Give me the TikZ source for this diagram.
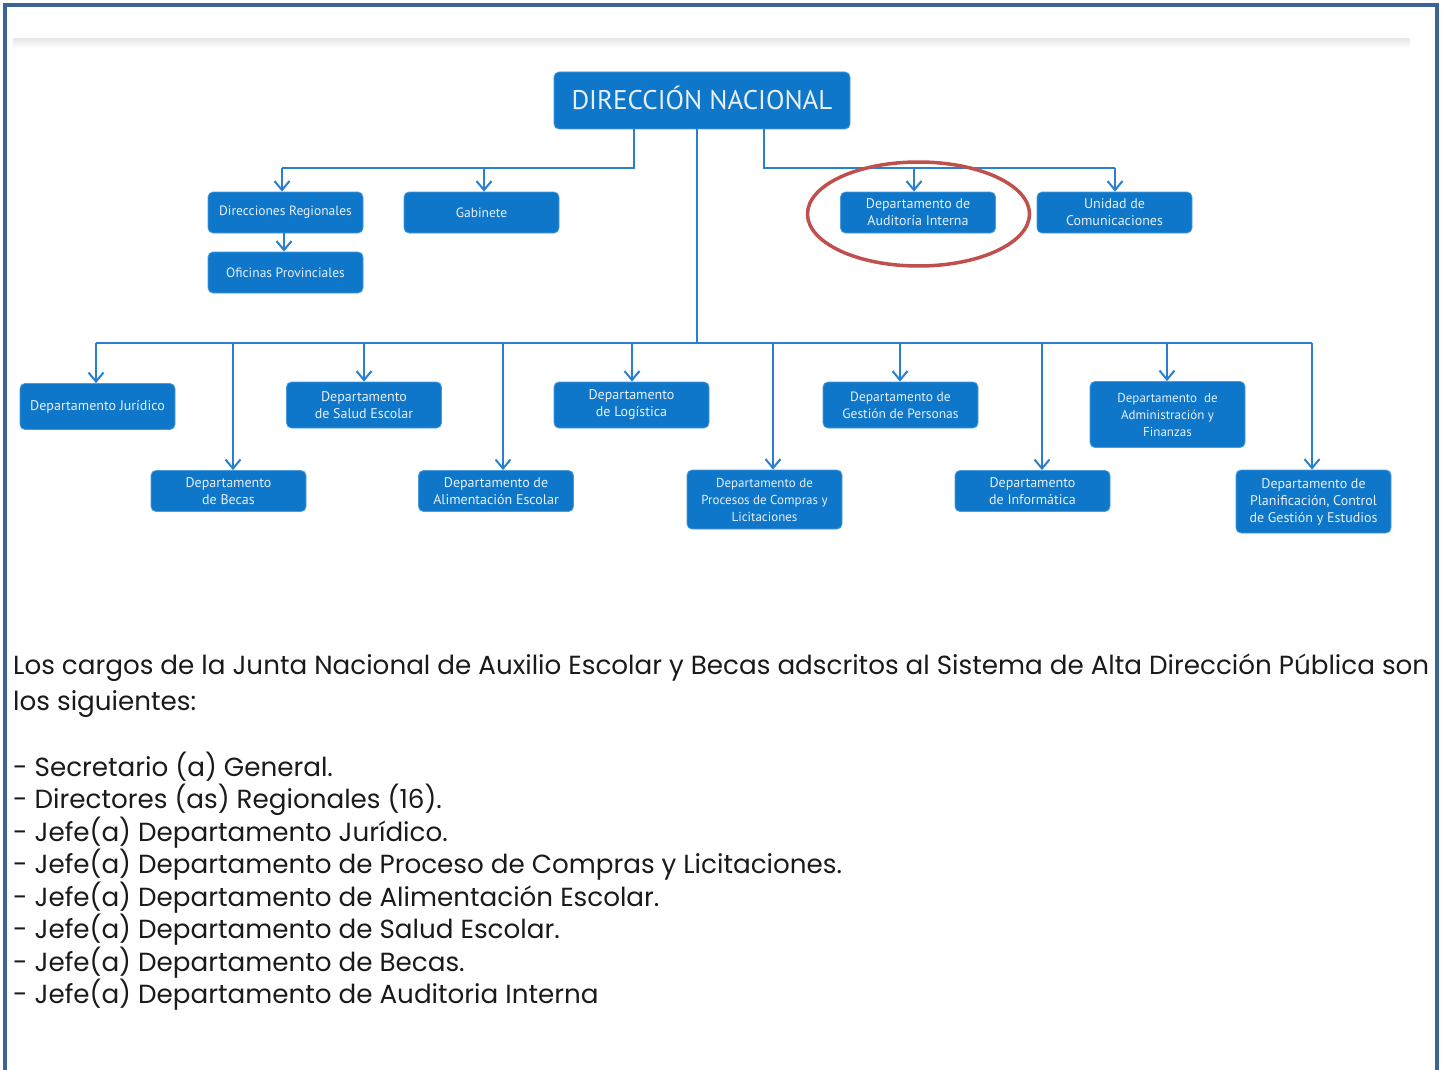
\documentclass[tikz,border=0pt]{standalone}
\usepackage{fontspec}
\setmainfont{Poppins}
\newfontfamily\boxfont{PT Sans}
\usetikzlibrary{arrows.meta,shapes.geometric}
\definecolor{boxblue}{HTML}{0E77C9}
\definecolor{boxedge}{HTML}{4C9BDB}
\definecolor{lineblue}{HTML}{2A80D0}
\definecolor{frameblue}{HTML}{3A6494}
\definecolor{boxtext}{HTML}{E8EFF7}
\definecolor{circred}{HTML}{C0504D}
\definecolor{bodytext}{HTML}{1A1A1A}
\begin{document}
\begin{tikzpicture}[x=1pt,y=-1pt,
  unitbox/.style={draw=boxedge,line width=0.8pt,fill=boxblue,rounded corners=5pt,
    minimum width=155pt,minimum height=41pt,inner sep=2pt,align=center,
    text=boxtext,font=\boxfont\fontsize{14}{17}\selectfont},
  smalltext/.style={font=\boxfont\fontsize{13.5}{17}\selectfont},
  tinytext/.style={font=\boxfont\fontsize{13}{17}\selectfont},
  conn/.style={draw=lineblue,line width=2pt},
  arr/.style={conn,-{Straight Barb[length=9pt,width=15pt]}},
  body/.style={anchor=base west,inner sep=0pt,text=bodytext,font=\fontsize{26.2}{30}\selectfont}]
\useasboundingbox (0,0) rectangle (1445,1070);
\fill[white] (0,0) rectangle (1445,1070);
% frame
\draw[frameblue,line width=4pt] (5,1075) -- (5,5) -- (1437,5) -- (1437,1075);
% faint top rule
\shade[top color=black!9,bottom color=white] (13,39) rectangle (1410,48);

% top node
\node[unitbox,minimum width=296pt,minimum height=57pt,font=\boxfont\fontsize{27}{30}\selectfont] (dn) at (702,100.5) {\raisebox{2.5pt}[\height][\depth]{DIRECCIÓN NACIONAL}};

% second level
\node[unitbox,smalltext] (dr) at (285.5,212.5) {Direcciones Regionales};
\node[unitbox,smalltext] (gab) at (481.5,212.5) {Gabinete};
\node[unitbox,smalltext] (op) at (285.5,272.5) {Oficinas Provinciales};
\node[unitbox] (aud) at (918,212.5) {Departamento de\\Auditoría Interna};
\node[unitbox] (com) at (1114.5,212.5) {Unidad de\\Comunicaciones};

\coordinate (lbus) at (634,168);
\coordinate (rbus) at (764,168);
\draw[conn] ([xshift=-68pt]dn.south) -- (lbus) -- (lbus -| 282,0);
\draw[arr] (lbus -| 282,0) -- ([xshift=-3.5pt]dr.north);
\draw[arr] (lbus -| 484,0) -- ([xshift=2.5pt]gab.north);
\draw[arr] ([xshift=-1.5pt]dr.south) -- ([xshift=-1.5pt]op.north);
\draw[conn] ([xshift=62pt]dn.south) -- (rbus) -- (rbus -| 1115,0);
\draw[arr] (rbus -| 914,0) -- ([xshift=-4pt]aud.north);
\draw[arr] (rbus -| 1115,0) -- ([xshift=0.5pt]com.north);

% red ellipse
\draw[circred,line width=3.5pt] (918.5,214) ellipse [x radius=111pt,y radius=52pt];

% bottom level
\node[unitbox,minimum height=46pt] (jur) at (97.5,406.5) {Departamento Jurídico};
\node[unitbox,minimum height=46pt] (sal) at (364,405) {Departamento\\de Salud Escolar};
\node[unitbox,minimum height=46pt] (log) at (631.5,405) {Departamento\\de Logística};
\node[unitbox,minimum height=46pt,smalltext] (ges) at (900.5,405) {Departamento de\\Gestión de Personas};
\node[unitbox,minimum height=66pt,tinytext] (adm) at (1167.5,414.5) {Departamento~ de\\Administración y\\Finanzas};
\node[unitbox] (bec) at (228.5,491) {Departamento\\de Becas};
\node[unitbox] (ali) at (496,491) {Departamento de\\Alimentación Escolar};
\node[unitbox,minimum height=59pt,tinytext] (pro) at (764.5,499.5) {Departamento de\\Procesos de Compras y\\Licitaciones};
\node[unitbox] (inf) at (1032.5,491) {Departamento\\de Informática};
\node[unitbox,minimum height=63pt] (pla) at (1313.5,501.5) {Departamento de\\Planificación, Control\\de Gestión y Estudios};

\coordinate (bbus) at (697,343);
\draw[conn] ([xshift=-5pt]dn.south) -- (bbus);
\draw[conn] (bbus -| 96,0) -- (bbus -| 1312,0);
\draw[arr] (bbus -| 96,0) -- ([xshift=-1.5pt]jur.north);
\draw[arr] (bbus -| 233,0) -- ([xshift=4.5pt]bec.north);
\draw[arr] (bbus -| 364,0) -- (sal.north);
\draw[arr] (bbus -| 503,0) -- ([xshift=7pt]ali.north);
\draw[arr] (bbus -| 632,0) -- ([xshift=0.5pt]log.north);
\draw[arr] (bbus -| 773,0) -- ([xshift=8.5pt]pro.north);
\draw[arr] (bbus -| 900,0) -- ([xshift=-0.5pt]ges.north);
\draw[arr] (bbus -| 1042,0) -- ([xshift=9.5pt]inf.north);
\draw[arr] (bbus -| 1167,0) -- ([xshift=-0.5pt]adm.north);
\draw[arr] (bbus -| 1312,0) -- ([xshift=-1.5pt]pla.north);

% body text
\node[body] (p1) at (13,674) {Los cargos de la Junta Nacional de Auxilio Escolar y Becas adscritos al Sistema de Alta Dirección Pública son};
\node[body] (p2) at (13,710) {los siguientes:};
\node[body] (l1) at (13,776) {- Secretario (a) General.};
\node[body] (l2) at (13,808.5) {- Directores (as) Regionales (16).};
\node[body] (l3) at (13,841) {- Jefe(a) Departamento Jurídico.};
\node[body] (l4) at (13,873.5) {- Jefe(a) Departamento de Proceso de Compras y Licitaciones.};
\node[body] (l5) at (13,906) {- Jefe(a) Departamento de Alimentación Escolar.};
\node[body] (l6) at (13,938.5) {- Jefe(a) Departamento de Salud Escolar.};
\node[body] (l7) at (13,971) {- Jefe(a) Departamento de Becas.};
\node[body] (l8) at (13,1003.5) {- Jefe(a) Departamento de Auditoria Interna};
\end{tikzpicture}
\end{document}
